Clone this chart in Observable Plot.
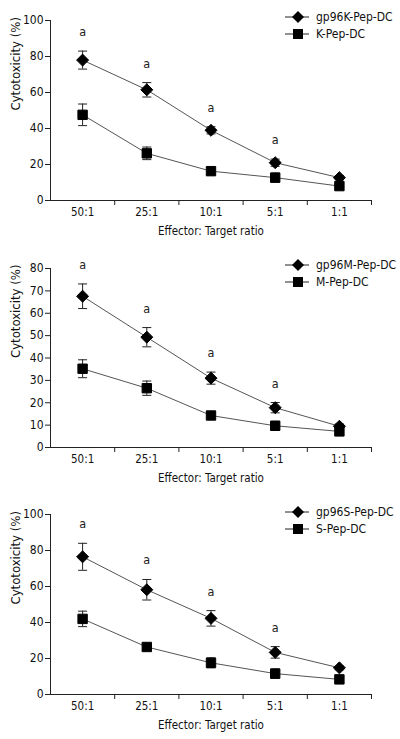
<!DOCTYPE html>
<html>
<head>
<meta charset="utf-8">
<script src="https://cdn.jsdelivr.net/npm/d3@7"></script>
<script src="https://cdn.jsdelivr.net/npm/@observablehq/plot@0.6"></script>
<style>
  html, body { margin: 0; padding: 0; background: #fff; }
  #wrap { position: relative; width: 400px; height: 739px; overflow: hidden; font-family: "DejaVu Sans Condensed", "DejaVu Sans", sans-serif; }
  .panel { position: absolute; left: 0; width: 400px; }
  .legend { position: absolute; left: 285px; width: 115px; font-size: 12px; color: #111; white-space: nowrap; }
  .legend .row { display: flex; align-items: center; height: 17.5px; white-space: nowrap; }
  .legend svg { margin-right: 5px; flex: none; }
</style>
</head>
<body>
<div id="wrap"></div>
<script>
// ---- data ----
const categories = ["50:1", "25:1", "10:1", "5:1", "1:1"];
const xLabel = "Effector: Target ratio";
const yLabel = "Cytotoxicity (%)";

const ticks100 = [0, 20, 40, 60, 80, 100];
const ticks80 = [0, 10, 20, 30, 40, 50, 60, 70, 80];

// Panel 1
const kNames = ["gp96K-Pep-DC", "K-Pep-DC"];
const kGp96 = [78, 61.5, 39, 21, 12.7];
const kGp96Err = [5, 4, 2, 2, 1.2];
const kPep = [47.6, 26.2, 16.3, 12.7, 8];
const kPepErr = [6, 3.5, 2, 2.5, 1];
const kSig = ["a", "a", "a", "a", ""];

// Panel 2
const mNames = ["gp96M-Pep-DC", "M-Pep-DC"];
const mGp96 = [67.6, 49.3, 31, 17.8, 9.5];
const mGp96Err = [5.5, 4.3, 2.7, 2.3, 1];
const mPep = [35.2, 26.5, 14.3, 9.7, 7.2];
const mPepErr = [4, 3.2, 1.5, 2, 1];
const mSig = ["a", "a", "a", "a", ""];

// Panel 3
const sNames = ["gp96S-Pep-DC", "S-Pep-DC"];
const sGp96 = [76.5, 58.2, 42.3, 23.4, 14.8];
const sGp96Err = [7.5, 5.7, 4.3, 3.2, 1];
const sPep = [42, 26.4, 17.6, 11.6, 8.4];
const sPepErr = [4.3, 2, 2.8, 2.6, 1.5];
const sSig = ["a", "a", "a", "a", ""];

// ---- drawing ----
const hline = {draw(ctx, size) { const r = Math.sqrt(size / Math.PI); ctx.moveTo(-r, 0); ctx.lineTo(r, 0); }};
const FONT = "\"DejaVu Sans Condensed\", \"DejaVu Sans\", sans-serif";

function rowsOf(name, vals, errs, sig) {
  return vals.map((v, i) => ({series: name, i, v, e: errs[i], sig: sig ? sig[i] : ""}));
}

function panel(cfg) {
  const A = rowsOf(cfg.names[0], cfg.a, cfg.aErr, cfg.sig);
  const B = rowsOf(cfg.names[1], cfg.b, cfg.bErr, null);
  const all = A.concat(B);
  const idx = categories.map((c, i) => i);
  const bounds = idx.map(i => i + 0.5);
  const chart = Plot.plot({
    width: 400,
    height: cfg.height,
    marginLeft: 50,
    marginRight: 29,
    marginTop: cfg.mt,
    marginBottom: cfg.mb,
    style: {fontFamily: FONT, fontSize: "10.5px", color: "#111", background: "#fff"},
    x: {type: "linear", domain: [-0.5, categories.length - 0.5]},
    y: {domain: [0, cfg.ticks[cfg.ticks.length - 1]]},
    marks: [
      Plot.axisY({ticks: cfg.ticks, tickSize: 5, tickPadding: 2, fontSize: 12, label: null, stroke: "#222"}),
      Plot.text([yLabel], {frameAnchor: "left", rotate: -90, dx: -35, fontSize: 13, fill: "#111"}),
      Plot.axisX({ticks: idx, tickSize: 0, tickPadding: 7, fontSize: 11.5,
        tickFormat: i => categories[i], label: xLabel, labelAnchor: "center", labelArrow: "none", labelOffset: 34}),
      Plot.axisX({ticks: bounds, tickSize: 5, tickFormat: () => "", label: null, stroke: "#222"}),
      Plot.frame({anchor: "left", stroke: "#222"}),
      Plot.frame({anchor: "bottom", stroke: "#222"}),
      Plot.line(A, {x: "i", y: "v", stroke: "#555", strokeWidth: 1}),
      Plot.line(B, {x: "i", y: "v", stroke: "#555", strokeWidth: 1}),
      Plot.ruleX(all, {x: "i", y1: d => d.v - d.e, y2: d => d.v + d.e, stroke: "#222", strokeWidth: 1}),
      Plot.dot(all, {x: "i", y: d => d.v + d.e, symbol: hline, r: 4.5, stroke: "#222", strokeWidth: 1}),
      Plot.dot(all, {x: "i", y: d => d.v - d.e, symbol: hline, r: 4.5, stroke: "#222", strokeWidth: 1}),
      Plot.dot(A, {x: "i", y: "v", symbol: "diamond2", r: 5.4, fill: "#000", stroke: "#000", strokeWidth: 1}),
      Plot.dot(B, {x: "i", y: "v", symbol: "square", r: 5.3, fill: "#000", stroke: "#000", strokeWidth: 1}),
      Plot.text(A.filter(d => d.sig), {x: "i", y: d => d.v + d.e, text: "sig", dy: -19, fontSize: 12.5, fill: "#222"})
    ]
  });
  const div = document.createElement("div");
  div.className = "panel";
  div.style.top = cfg.top + "px";
  div.appendChild(chart);

  // legend
  const leg = document.createElement("div");
  leg.className = "legend";
  leg.style.top = cfg.legTop + "px";
  const syms = [
    '<svg width="26" height="14"><line x1="0" x2="24" y1="7" y2="7" stroke="#222"/><path d="M13,1L19,7L13,13L7,7Z" fill="#000"/></svg>',
    '<svg width="26" height="14"><line x1="0" x2="24" y1="7" y2="7" stroke="#222"/><rect x="8" y="2" width="10" height="10" fill="#000"/></svg>'
  ];
  cfg.names.forEach((n, k) => {
    const r = document.createElement("div");
    r.className = "row";
    r.innerHTML = syms[k] + "<span>" + n + "</span>";
    leg.appendChild(r);
  });
  div.appendChild(leg);
  document.getElementById("wrap").appendChild(div);
}

panel({top: 0, height: 240, mt: 20, mb: 40, ticks: ticks100, names: kNames,
  a: kGp96, aErr: kGp96Err, b: kPep, bErr: kPepErr, sig: kSig, legTop: 8});
panel({top: 240, height: 250, mt: 28, mb: 43, ticks: ticks80, names: mNames,
  a: mGp96, aErr: mGp96Err, b: mPep, bErr: mPepErr, sig: mSig, legTop: 16});
panel({top: 490, height: 249, mt: 24, mb: 45, ticks: ticks100, names: sNames,
  a: sGp96, aErr: sGp96Err, b: sPep, bErr: sPepErr, sig: sSig, legTop: 13});
</script>
</body>
</html>
